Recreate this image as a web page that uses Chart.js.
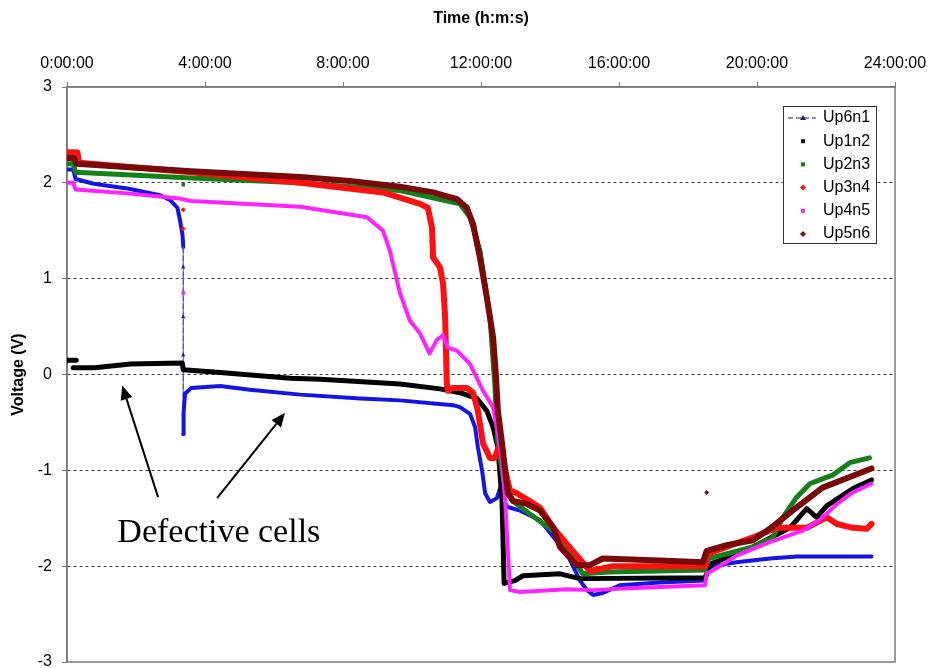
<!DOCTYPE html>
<html>
<head>
<meta charset="utf-8">
<title>Cell voltages</title>
<script src="https://cdn.jsdelivr.net/npm/chart.js@4.4.0/dist/chart.umd.min.js"></script>
<style>
  html, body { margin: 0; padding: 0; background: #fff; }
  #wrap { width: 927px; height: 668px; position: relative; }
</style>
</head>
<body>
<div id="wrap"><canvas id="cells"></canvas></div>
<script>
/* cell voltages over a 24 h run - time in hours, voltage in volts */
const cellNames = ["Up6n1", "Up1n2", "Up2n3", "Up3n4", "Up4n5", "Up5n6"];
const cellColors = ["#1414e6", "#000000", "#13801a", "#ff1010", "#ff22ff", "#7a0a0a"];
const cellWidths = [4, 5, 5, 6, 4, 6];
const hourTicks = [0, 4, 8, 12, 16, 20, 24];
const voltTicks = [-3, -2, -1, 0, 1, 2, 3];

const tUp6n1 = [0, 0.18, 0.25, 0.77, 1.75, 2.7, 2.99, 3.2, 3.28, 3.35, 3.37, 3.37, 3.37, 3.37, 3.37, 3.38, 3.42, 3.6, 4.44, 5.3, 6.76, 8.5, 9.65, 11.19, 11.39, 11.68, 11.83, 11.91, 12.03, 12.12, 12.26, 12.46, 12.55, 12.75, 13.13, 13.71, 14.49, 14.87, 15.07, 15.25, 15.53, 16.02, 17.18, 18.49, 18.63, 19.41, 20.37, 21.15, 23.32];
const vUp6n1 = [2.14, 2.14, 2.04, 1.99, 1.94, 1.87, 1.82, 1.74, 1.6, 1.45, 1.33, 1.12, 0.6, 0.2, -0.62, -0.4, -0.2, -0.14, -0.12, -0.16, -0.21, -0.25, -0.27, -0.32, -0.34, -0.41, -0.55, -0.76, -1.0, -1.24, -1.33, -1.29, -1.19, -1.38, -1.42, -1.52, -1.87, -2.15, -2.25, -2.3, -2.28, -2.2, -2.17, -2.15, -2.0, -1.96, -1.92, -1.9, -1.9];

const tUp1n2 = [0, 0.27, 0.27, 0.18, 0.8, 1.83, 3.34, 3.37, 4.44, 6.47, 7.34, 9.65, 10.81, 11.39, 11.88, 12.17, 12.35, 12.49, 12.61, 12.67, 12.98, 13.22, 14.29, 14.87, 18.49, 18.7, 19.88, 20.95, 21.44, 21.73, 22.02, 22.78, 23.32];
const vUp1n2 = [0.15, 0.15, null, 0.07, 0.07, 0.11, 0.12, 0.05, 0.02, -0.04, -0.05, -0.1, -0.15, -0.19, -0.25, -0.38, -0.55, -0.76, -1.32, -2.18, -2.15, -2.1, -2.08, -2.13, -2.12, -1.97, -1.8, -1.6, -1.4, -1.49, -1.37, -1.19, -1.1];

const tUp2n3 = [0, 0.18, 0.25, 3.6, 6.76, 9.65, 11.39, 11.68, 11.97, 12.26, 12.4, 12.49, 12.65, 12.93, 13.13, 14.2, 14.95, 15.7, 18.49, 18.6, 19.88, 20.46, 20.75, 21.15, 21.53, 21.82, 22.19, 22.69, 23.26];
const vUp2n3 = [2.2, 2.2, 2.11, 2.05, 2.0, 1.92, 1.78, 1.64, 1.29, 0.6, -0.1, -0.72, -1.1, -1.32, -1.38, -1.66, -2.08, -2.06, -2.04, -1.92, -1.8, -1.7, -1.49, -1.28, -1.14, -1.1, -1.05, -0.92, -0.87];

const tUp3n4 = [0, 0.3, 0.35, 3.6, 6.76, 9.16, 10.23, 10.46, 10.58, 10.61, 10.81, 10.9, 10.96, 11.01, 11.04, 11.19, 11.59, 11.77, 11.91, 12.06, 12.26, 12.4, 12.49, 12.61, 12.7, 12.84, 13.04, 13.41, 13.71, 14.1, 14.49, 15.16, 15.82, 18.49, 18.57, 19.88, 20.57, 21.44, 22.02, 22.32, 22.78, 23.18, 23.32];
const vUp3n4 = [2.32, 2.32, 2.21, 2.11, 2.0, 1.9, 1.78, 1.74, 1.53, 1.22, 1.12, 0.95, 0.6, -0.1, -0.17, -0.14, -0.14, -0.19, -0.38, -0.72, -0.87, -0.87, -0.78, -0.8, -1.0, -1.21, -1.24, -1.32, -1.39, -1.6, -1.77, -2.05, -2.0, -2.0, -1.87, -1.7, -1.6, -1.6, -1.49, -1.56, -1.6, -1.61, -1.56];

const tUp4n5 = [0, 0.18, 0.25, 1.75, 3.2, 3.6, 6.76, 8.7, 9.16, 9.36, 9.65, 9.94, 10.23, 10.51, 10.72, 10.9, 11.04, 11.3, 11.68, 12.06, 12.35, 12.46, 12.61, 12.7, 12.84, 13.13, 14.49, 15.25, 16.3, 18.49, 18.54, 18.92, 19.41, 20.37, 21.32, 21.82, 22.32, 22.78, 23.32];
const vUp4n5 = [2.0, 2.0, 1.93, 1.89, 1.84, 1.81, 1.75, 1.64, 1.5, 1.29, 0.85, 0.56, 0.43, 0.22, 0.36, 0.41, 0.28, 0.25, 0.11, -0.17, -0.34, -0.55, -0.9, -1.32, -2.25, -2.27, -2.24, -2.25, -2.23, -2.2, -2.08, -2.0, -1.89, -1.75, -1.63, -1.52, -1.35, -1.23, -1.14];

const tUp5n6 = [0, 0.2, 0.27, 3.6, 6.76, 8.2, 9.65, 10.61, 11.3, 11.59, 11.77, 11.97, 12.17, 12.35, 12.43, 12.49, 12.61, 12.7, 12.78, 12.93, 13.33, 13.71, 14.1, 14.29, 14.78, 15.16, 15.53, 17.18, 18.43, 18.54, 19.12, 19.88, 20.37, 21.03, 21.9, 22.69, 23.32];
const vUp5n6 = [2.26, 2.26, 2.2, 2.12, 2.06, 2.02, 1.96, 1.9, 1.83, 1.74, 1.57, 1.22, 0.8, 0.39, 0.0, -0.38, -0.72, -1.0, -1.24, -1.32, -1.35, -1.42, -1.6, -1.8, -1.99, -1.99, -1.92, -1.94, -1.96, -1.84, -1.78, -1.73, -1.61, -1.42, -1.18, -1.07, -0.98];

// single readings that sit apart from their curve
const strayCell = [2, 3, 3, 4, 5];
const strayT = [3.37, 3.37, 3.37, 3.37, 18.54];
const strayV = [1.98, 1.72, 1.52, 0.85, -1.23];

const allT = [tUp6n1, tUp1n2, tUp2n3, tUp3n4, tUp4n5, tUp5n6];
const allV = [vUp6n1, vUp1n2, vUp2n3, vUp3n4, vUp4n5, vUp5n6];
const markerStyles = ["triangle", "rect", "rect", "rectRot", "rect", "rectRot"];

function pontos(t, v) {
    return t.map((x, i) => ({ x: x, y: v[i] }));
}

// the sudden fall of Up6n1 is only joined by a thin dashed line
function quedaVertical(c) {
    return c.p0.parsed.x === c.p1.parsed.x && Math.abs(c.p0.parsed.y - c.p1.parsed.y) > 0.15;
}

const datasets = cellNames.map((nome, i) => ({
    label: nome,
    data: pontos(allT[i], allV[i]),
    showLine: true,
    borderColor: cellColors[i],
    backgroundColor: cellColors[i],
    borderWidth: cellWidths[i],
    borderCapStyle: "round",
    borderJoinStyle: "round",
    pointRadius: i === 0 ? (c => (c.raw && c.raw.x === 3.37 && c.raw.y < 1.3) ? 2.5 : 0) : 0,
    pointStyle: markerStyles[i],
    pointBorderWidth: 0,
    order: 6 - i,
    segment: i === 0 ? {
        borderWidth: c => quedaVertical(c) ? 1 : undefined,
        borderDash: c => quedaVertical(c) ? [5, 3] : undefined,
        borderColor: c => quedaVertical(c) ? "#5a5aa8" : undefined
    } : undefined
}));

strayT.forEach((t, k) => {
    const i = strayCell[k];
    datasets.push({
        label: "",
        data: [{ x: t, y: strayV[k] }],
        showLine: false,
        pointRadius: 2.5,
        pointStyle: markerStyles[i],
        pointBorderWidth: 0,
        backgroundColor: cellColors[i],
        borderColor: cellColors[i],
        order: 0
    });
});

// plot frame (right and bottom edges too)
const moldura = {
    id: "moldura",
    beforeDatasetsDraw(chart) {
        const { ctx, chartArea: a } = chart;
        ctx.save();
        ctx.strokeStyle = "#7a7a7a";
        ctx.lineWidth = 1.5;
        ctx.strokeRect(a.left, a.top, a.right - a.left, a.bottom - a.top);
        ctx.restore();
    }
};

// legend box inside the plot, top right
const legendaBox = {
    id: "legendaBox",
    afterDatasetsDraw(chart) {
        const { ctx, chartArea: a } = chart;
        const w = 93, h = 137;
        const x0 = a.right - 19 - w, y0 = a.top + 19;
        ctx.save();
        ctx.fillStyle = "#fff";
        ctx.fillRect(x0, y0, w, h);
        ctx.strokeStyle = "#333";
        ctx.lineWidth = 1;
        ctx.strokeRect(x0 + 0.5, y0 + 0.5, w, h);
        ctx.font = "16px 'Liberation Sans', Arial, sans-serif";
        ctx.textBaseline = "middle";
        ctx.textAlign = "left";
        cellNames.forEach((nome, i) => {
            const cy = y0 + 12 + i * 23.2;
            const cx = x0 + 20;
            ctx.fillStyle = cellColors[i];
            if (i === 0) {
                ctx.strokeStyle = "#1a1a80";
                ctx.lineWidth = 1;
                ctx.setLineDash([5, 3]);
                ctx.beginPath();
                ctx.moveTo(x0 + 5, cy);
                ctx.lineTo(x0 + 33, cy);
                ctx.stroke();
                ctx.setLineDash([]);
                ctx.fillStyle = "#1a1a80";
                ctx.beginPath();
                ctx.moveTo(cx, cy - 3);
                ctx.lineTo(cx + 3, cy + 2);
                ctx.lineTo(cx - 3, cy + 2);
                ctx.closePath();
                ctx.fill();
            } else if (markerStyles[i] === "rectRot") {
                ctx.beginPath();
                ctx.moveTo(cx, cy - 3);
                ctx.lineTo(cx + 3, cy);
                ctx.lineTo(cx, cy + 3);
                ctx.lineTo(cx - 3, cy);
                ctx.closePath();
                ctx.fill();
            } else {
                ctx.fillRect(cx - 2, cy - 2, 4, 4);
            }
            ctx.fillStyle = "#000";
            ctx.fillText(nome, x0 + 40, cy);
        });
        ctx.restore();
    }
};

// "Defective cells" note with its two arrows, placed in data units
const nota = {
    id: "nota",
    afterDraw(chart) {
        const { ctx, scales } = chart;
        const px = h => scales.x.getPixelForValue(h);
        const py = v => scales.y.getPixelForValue(v);
        const setas = [
            [2.64, -1.28, 1.6, -0.115],
            [4.35, -1.29, 6.32, -0.4]
        ];
        ctx.save();
        ctx.strokeStyle = "#000";
        ctx.fillStyle = "#000";
        ctx.lineWidth = 2;
        setas.forEach(s => {
            const x1 = px(s[0]), y1 = py(s[1]), x2 = px(s[2]), y2 = py(s[3]);
            const ang = Math.atan2(y2 - y1, x2 - x1);
            const L = 14, W = 6;
            const bx = x2 - L * Math.cos(ang), by = y2 - L * Math.sin(ang);
            ctx.beginPath();
            ctx.moveTo(x1, y1);
            ctx.lineTo(bx, by);
            ctx.stroke();
            ctx.beginPath();
            ctx.moveTo(x2, y2);
            ctx.lineTo(bx + W * Math.sin(ang), by - W * Math.cos(ang));
            ctx.lineTo(bx - W * Math.sin(ang), by + W * Math.cos(ang));
            ctx.closePath();
            ctx.fill();
        });
        ctx.font = "34px 'Liberation Serif', 'Times New Roman', serif";
        ctx.textBaseline = "alphabetic";
        ctx.fillText("Defective cells", px(1.46), py(-1.75));
        ctx.restore();
    }
};

const tickFont = { family: "'Liberation Sans', Arial, sans-serif", size: 16 };

new Chart(document.getElementById("cells"), {
    type: "scatter",
    data: { datasets: datasets },
    options: {
        responsive: true,
        maintainAspectRatio: false,
        animation: false,
        layout: { padding: { left: 0, top: 0, right: 32, bottom: 6 } },
        plugins: { legend: { display: false }, tooltip: { enabled: false } },
        scales: {
            x: {
                type: "linear",
                position: "top",
                min: hourTicks[0],
                max: hourTicks[hourTicks.length - 1],
                afterBuildTicks: s => { s.ticks = hourTicks.map(v => ({ value: v })); },
                afterFit: s => { s.height = 87; s.paddingLeft = 0; s.paddingRight = 0; },
                ticks: {
                    callback: v => v + ":00:00",
                    font: tickFont,
                    color: "#000",
                    padding: 9,
                    maxRotation: 0
                },
                grid: { drawOnChartArea: false, drawTicks: true, tickLength: 5, color: "#7a7a7a", tickColor: "#7a7a7a" },
                border: { color: "#7a7a7a", width: 1.5 },
                title: {
                    display: true,
                    text: "Time (h:m:s)",
                    font: { family: "'Liberation Sans', Arial, sans-serif", size: 16, weight: "bold" },
                    color: "#000",
                    padding: { top: 9, bottom: 0 }
                }
            },
            y: {
                min: voltTicks[0],
                max: voltTicks[voltTicks.length - 1],
                afterBuildTicks: s => { s.ticks = voltTicks.map(v => ({ value: v })); },
                afterFit: s => { s.width = 67; s.paddingTop = 0; s.paddingBottom = 0; },
                ticks: { font: tickFont, color: "#000", padding: 10 },
                grid: {
                    color: c => (c.tick && Math.abs(c.tick.value) === 3) ? "rgba(0,0,0,0)" : "#3a3a3a",
                    tickColor: "#7a7a7a",
                    tickLength: 5,
                    lineWidth: 1
                },
                border: { color: "#7a7a7a", width: 1.5, dash: [3, 3] },
                title: {
                    display: true,
                    text: "Voltage (V)",
                    font: { family: "'Liberation Sans', Arial, sans-serif", size: 16, weight: "bold" },
                    color: "#000",
                    padding: { top: 9, bottom: 0 }
                }
            }
        }
    },
    plugins: [moldura, legendaBox, nota]
});
</script>
</body>
</html>
